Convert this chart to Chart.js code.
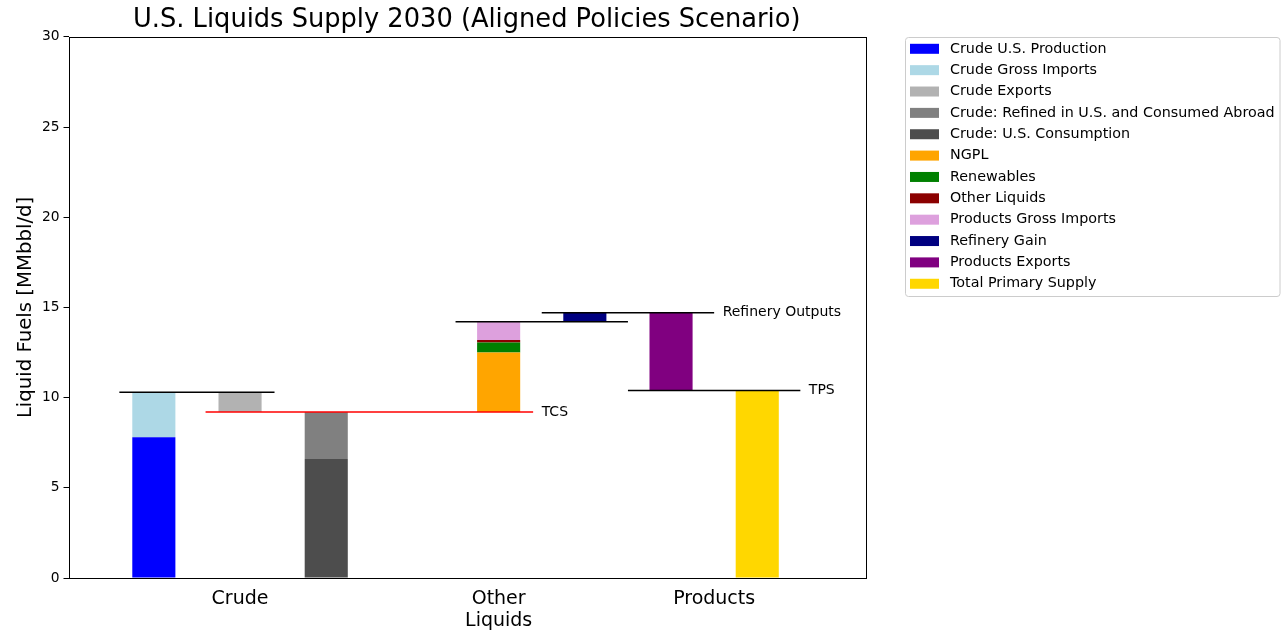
<!DOCTYPE html>
<html>
<head>
<meta charset="utf-8">
<title>U.S. Liquids Supply 2030</title>
<script src="https://cdn.jsdelivr.net/npm/chart.js@4.4.1/dist/chart.umd.min.js"></script>
<style>
  body { margin: 0; background: #fff; }
  #wrap { width: 1286px; height: 632px; position: relative; }
</style>
</head>
<body>
<div id="wrap"><canvas id="supplyChart"></canvas></div>
<script>
// Flows, MMbbl/d. Each one is a floating bar from bottom to top.
const seriesNames = [
  "Crude U.S. Production",
  "Crude Gross Imports",
  "Crude Exports",
  "Crude: Refined in U.S. and Consumed Abroad",
  "Crude: U.S. Consumption",
  "NGPL",
  "Renewables",
  "Other Liquids",
  "Products Gross Imports",
  "Refinery Gain",
  "Products Exports",
  "Total Primary Supply"
];
const seriesColors = [
  "#0000ff", "#add8e6", "#b2b2b2", "#808080", "#4d4d4d", "#ffa500",
  "#008000", "#8b0000", "#dda0dd", "#000080", "#800080", "#ffd700"
];
const barSlot   = [0, 0, 1, 2, 2, 4, 4, 4, 4, 5, 6, 7];
const barBottom = [0, 7.8, 9.2, 6.6, 0, 9.2, 12.5, 13.05, 13.2, 14.2, 10.4, 0];
const barTop    = [7.8, 10.3, 10.3, 9.2, 6.6, 12.5, 13.05, 13.2, 14.2, 14.7, 14.7, 10.4];

// Horizontal balance lines (TCS, refinery outputs, TPS ...)
const levelNames  = ["", "TCS", "", "Refinery Outputs", "TPS"];
const levelValues = [10.3, 9.2, 14.2, 14.7, 10.4];
const levelStart  = [-0.4, 0.6, 3.5, 4.5, 5.5];
const levelEnd    = [1.4, 4.4, 5.5, 6.5, 7.5];
const levelColors = ["#000000", "#ff0000", "#000000", "#000000", "#000000"];

// x axis groups
const groupTicks  = [1, 4, 6.5];
const groupLabels = ["Crude", ["Other", "Liquids"], "Products"];

const FONT = "'DejaVu Sans', 'Liberation Sans', sans-serif";

const datasets = [];
seriesNames.forEach((name, i) => {
  datasets.push({
    type: "bar",
    label: name,
    data: [{ x: barSlot[i], y: [barBottom[i], barTop[i]] }],
    backgroundColor: seriesColors[i],
    borderWidth: 0,
    grouped: false,
    categoryPercentage: 1.0,
    barPercentage: 0.5,
    order: 2
  });
});
levelValues.forEach((v, i) => {
  datasets.push({
    type: "line",
    label: levelNames[i],
    data: [{ x: levelStart[i], y: v }, { x: levelEnd[i], y: v }],
    borderColor: levelColors[i],
    borderWidth: 1.5,
    pointRadius: 0,
    fill: false,
    order: 1
  });
});

// full box around the plot area
const frame = {
  id: "frame",
  afterDraw(chart) {
    const { ctx, chartArea: a } = chart;
    ctx.save();
    ctx.strokeStyle = "#000";
    ctx.lineWidth = 1;
    ctx.strokeRect(Math.round(a.left) + 0.5, Math.round(a.top) + 0.5,
      Math.round(a.right - a.left), Math.round(a.bottom - a.top));
    ctx.restore();
  }
};

// names written at the right end of the balance lines
const levelText = {
  id: "levelText",
  afterDatasetsDraw(chart) {
    const { ctx, scales } = chart;
    ctx.save();
    ctx.font = "14px " + FONT;
    ctx.fillStyle = "#000";
    ctx.textBaseline = "middle";
    levelNames.forEach((name, i) => {
      if (!name) return;
      const x = scales.x.getPixelForValue(levelEnd[i]) + 8.5;
      const y = scales.y.getPixelForValue(levelValues[i]);
      ctx.fillText(name, x, y);
    });
    ctx.restore();
  }
};

// legend box outside the plot, top right
const sideLegend = {
  id: "sideLegend",
  afterDraw(chart) {
    const { ctx } = chart;
    const bars = chart.data.datasets.filter(d => d.type === "bar");
    const left = 905.5, top = 37.5, w = 374.5, h = 259, r = 3;
    ctx.save();
    ctx.beginPath();
    ctx.roundRect(left, top, w, h, r);
    ctx.fillStyle = "#fff";
    ctx.fill();
    ctx.strokeStyle = "#cccccc";
    ctx.lineWidth = 1;
    ctx.stroke();
    ctx.font = "14.3px " + FONT;
    ctx.textBaseline = "middle";
    bars.forEach((d, i) => {
      const cy = 48.8 + i * 21.36;
      ctx.fillStyle = d.backgroundColor;
      ctx.fillRect(910, cy - 5, 29, 10);
      ctx.fillStyle = "#000";
      ctx.fillText(d.label, 950, cy);
    });
    ctx.restore();
  }
};

new Chart(document.getElementById("supplyChart"), {
  data: { datasets },
  options: {
    responsive: true,
    maintainAspectRatio: false,
    animation: false,
    layout: { padding: { left: 0, right: 421, top: 0, bottom: 0 } },
    plugins: {
      legend: { display: false },
      tooltip: { enabled: false },
      title: {
        display: true,
        fullSize: false,
        text: "U.S. Liquids Supply 2030 (Aligned Policies Scenario)",
        color: "#000",
        font: { family: FONT, size: 25.7, weight: "normal", lineHeight: 1.2 },
        padding: { top: 5, bottom: 1 }
      }
    },
    scales: {
      x: {
        type: "linear",
        offset: false,
        min: -0.99,
        max: 8.25,
        grid: { display: false },
        border: { display: false },
        afterFit(scale) { scale.height = 54; },
        afterBuildTicks(scale) {
          scale.ticks = groupTicks.map(v => ({ value: v }));
        },
        ticks: {
          autoSkip: false,
          maxRotation: 0,
          padding: 2,
          color: "#000",
          font: { family: FONT, size: 19, lineHeight: 1.15 },
          callback: (value, index) => groupLabels[index]
        }
      },
      y: {
        min: 0,
        max: 30,
        grid: { drawOnChartArea: false, color: "#000", tickLength: 5 },
        border: { display: false },
        afterFit(scale) { scale.width = 68.5; },
        ticks: {
          stepSize: 5,
          padding: 4,
          color: "#000",
          font: { family: FONT, size: 13.8 }
        },
        title: {
          display: true,
          text: "Liquid Fuels [MMbbl/d]",
          color: "#000",
          font: { family: FONT, size: 19.7 },
          padding: { top: 14, bottom: 0 }
        }
      }
    }
  },
  plugins: [frame, levelText, sideLegend]
});
</script>
</body>
</html>
